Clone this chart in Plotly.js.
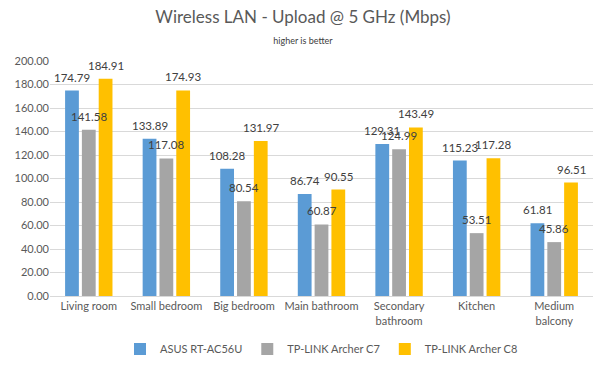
<!DOCTYPE html>
<html>
<head>
<meta charset="utf-8">
<script src="https://cdn.plot.ly/plotly-3.0.1.min.js"></script>
<style>html,body{margin:0;padding:0;background:#fff;}#chart{width:606px;height:375px;}</style>
</head>
<body>
<div id="chart"></div>
<script>
const categories = ["Living room", "Small bedroom", "Big bedroom", "Main bathroom", "Secondary<br>bathroom", "Kitchen", "Medium<br>balcony"];
const seriesNames = ["ASUS RT-AC56U", "TP-LINK Archer C7", "TP-LINK Archer C8"];
const asus = [174.79, 133.89, 108.28, 86.74, 129.31, 115.23, 61.81];
const c7 = [141.58, 117.08, 80.54, 60.87, 124.99, 53.51, 45.86];
const c8 = [184.91, 174.93, 131.97, 90.55, 143.49, 117.28, 96.51];
const colors = ["#5b9bd5", "#a5a5a5", "#ffc000"];
const font = "Lato, 'Open Sans', sans-serif";

const W = 606, H = 375;
const margin = {l: 50, r: 13, t: 61, b: 74};
const bargap = 0.35, bargroupgap = 0.18;
const catWidth = (W - margin.l - margin.r) / categories.length;
const slot = (1 - bargap) * catWidth / 3;

const series = [asus, c7, c8];
const data = series.map((vals, i) => ({
  type: "bar",
  name: seriesNames[i],
  x: categories,
  y: vals,
  marker: {color: colors[i]},
  hoverinfo: "none"
}));

const annotations = [];
series.forEach((vals, i) => {
  vals.forEach((v, j) => {
    annotations.push({
      x: categories[j], y: v, xref: "x", yref: "y",
      text: v.toFixed(2), showarrow: false,
      xanchor: "center", yanchor: "bottom",
      xshift: (i - 1) * slot, yshift: 5,
      font: {size: 11.5, color: "#404040", family: font}
    });
  });
});

const layout = {
  width: W, height: H,
  margin: margin,
  paper_bgcolor: "#fff", plot_bgcolor: "#fff",
  font: {family: font, color: "#595959", size: 11},
  title: {
    text: "Wireless LAN - Upload @ 5 GHz (Mbps)",
    font: {size: 17, color: "#595959", family: font},
    x: 0.5, xanchor: "center", y: 0.955, yanchor: "middle",
    subtitle: {text: "higher is better", font: {size: 9, color: "#404040", family: font}}
  },
  barmode: "group",
  bargap: bargap,
  bargroupgap: bargroupgap,
  xaxis: {
    type: "category",
    showgrid: false,
    showline: true, linecolor: "#d9d9d9", linewidth: 1,
    ticks: "", tickfont: {size: 11, color: "#595959"},
    automargin: false
  },
  yaxis: {
    range: [0, 200], dtick: 20, tickformat: ".2f",
    showgrid: true, gridcolor: "#d9d9d9", gridwidth: 1,
    zeroline: false, showline: false, ticks: "",
    tickfont: {size: 11, color: "#595959"},
    automargin: false
  },
  annotations: annotations,
  showlegend: true,
  legend: {
    orientation: "h", x: 0.5, xanchor: "center", y: -0.225, yanchor: "middle",
    font: {size: 11, color: "#595959"}, itemwidth: 30, traceorder: "normal"
  }
};

Plotly.newPlot("chart", data, layout, {staticPlot: true, displayModeBar: false});
</script>
</body>
</html>
